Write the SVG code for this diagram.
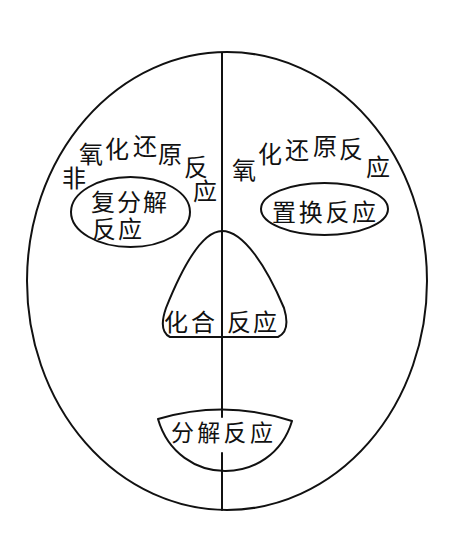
<svg xmlns="http://www.w3.org/2000/svg" width="450" height="546" viewBox="0 0 450 546">
<style>
  .ln{fill:none;stroke:#111;stroke-width:2;stroke-linejoin:round;stroke-linecap:round}
  .tx{font-family:"Noto Sans CJK SC","Noto Sans",sans-serif;font-size:24px;fill:#111}
  .c{text-anchor:middle}
</style>
<rect width="450" height="546" fill="#fff"/>
<g id="face">
  <ellipse class="ln" cx="227" cy="281" rx="200" ry="229"/>
</g>
<g id="connectors">
  <line class="ln" x1="222" y1="53" x2="222" y2="417"/>
  <line class="ln" x1="222" y1="453" x2="222" y2="510"/>
</g>
<g id="non-redox-label" class="tx c">
  <text x="74" y="187">非</text>
  <text x="91" y="163">氧</text>
  <text x="117" y="158">化</text>
  <text x="145" y="155">还</text>
  <text x="170" y="163">原</text>
  <text x="196" y="176">反</text>
  <text x="205" y="200">应</text>
</g>
<g id="redox-label" class="tx c">
  <text x="244" y="179">氧</text>
  <text x="270" y="163">化</text>
  <text x="297" y="159">还</text>
  <text x="325" y="155">原</text>
  <text x="351" y="158">反</text>
  <text x="378" y="176">应</text>
</g>
<g id="double-decomposition">
  <ellipse class="ln" cx="130.5" cy="212" rx="59.5" ry="35"/>
  <text class="tx" x="91" y="210.5" letter-spacing="2">复分解</text>
  <text class="tx" x="92" y="238" letter-spacing="2">反应</text>
</g>
<g id="displacement">
  <ellipse class="ln" cx="324.5" cy="209" rx="63.5" ry="26"/>
  <text class="tx" x="272" y="220.5" letter-spacing="2.7">置换反应</text>
</g>
<g id="combination">
  <path class="ln" d="M222 231 C202 231 182 268 166 308 Q158 331 170 337 L278 337 Q291 331 284 308 C267 268 244 231 222 231 Z"/>
  <text class="tx" x="164" y="330.5" letter-spacing="3">化合</text>
  <text class="tx" x="227" y="330.5" letter-spacing="2">反应</text>
</g>
<g id="decomposition">
  <path class="ln" d="M158 419 Q225 399 292 421 C272 488 178 488 158 419 Z"/>
  <text class="tx" x="171" y="441" style="font-size:23px" letter-spacing="3.3">分解反应</text>
</g>
</svg>
